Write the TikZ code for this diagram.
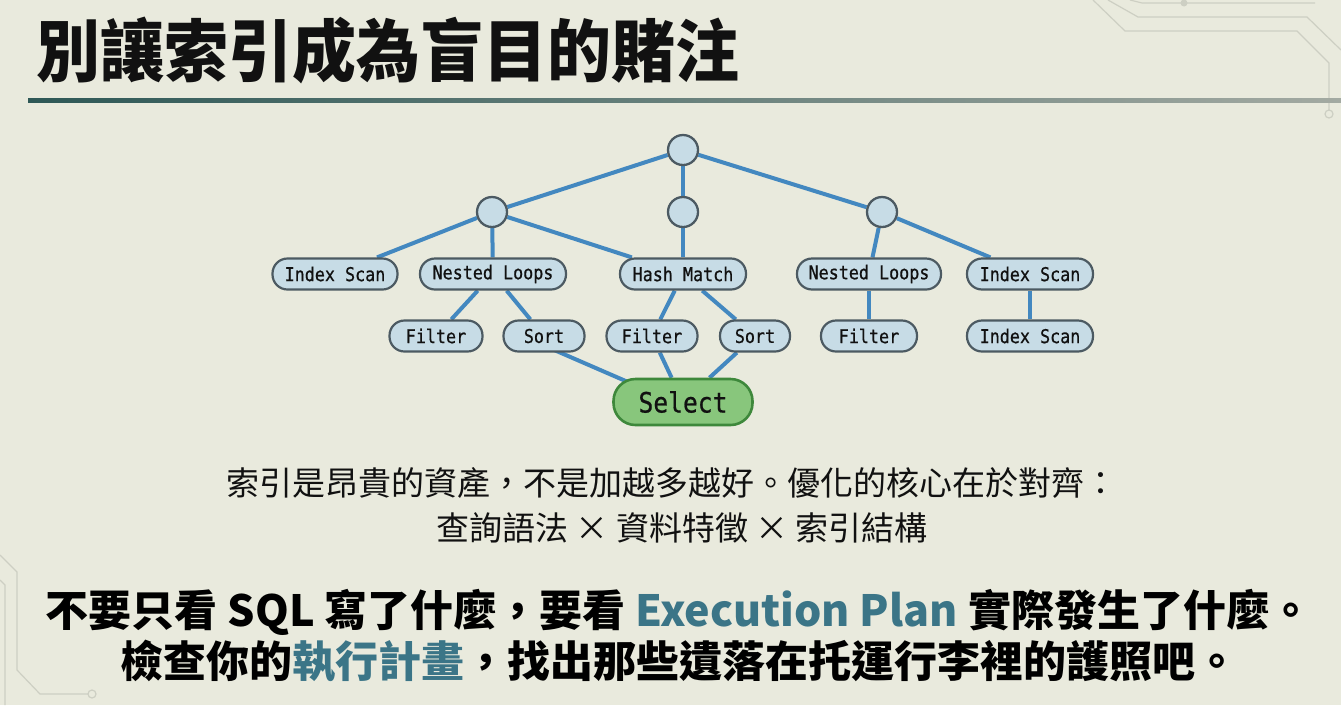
\documentclass[tikz,border=0pt]{standalone}
\usepackage{fontspec}
\newfontfamily\cjk{Noto Sans CJK TC}
\newfontfamily\cjkblack{Noto Sans CJK TC Black}
\newfontfamily\mono[FakeBold=0.7]{DejaVu Sans Mono}
\definecolor{bgcol}{HTML}{E9EADD}
\definecolor{edgecol}{HTML}{4388C0}
\definecolor{nodefill}{HTML}{C7DCE6}
\definecolor{nodedraw}{HTML}{4C5A62}
\definecolor{selfill}{HTML}{88C67C}
\definecolor{seldraw}{HTML}{3E883B}
\definecolor{teal}{HTML}{3B7587}
\definecolor{ruleL}{HTML}{2E5856}
\definecolor{ruleR}{HTML}{A3AAA2}
\definecolor{circuit}{HTML}{CDCFC3}
\definecolor{txt}{HTML}{111111}
\pgfdeclarelayer{back}
\pgfdeclarelayer{bg}
\pgfsetlayers{back,bg,main}
\newcommand{\optext}[1]{\scalebox{0.88}[1]{#1}}
\tikzset{
  joint/.style={circle, fill=nodefill, draw=nodedraw, line width=2.3pt, minimum size=30pt, inner sep=0pt},
  op/.style={rounded corners=15pt, fill=nodefill, draw=nodedraw, line width=2.2pt,
    minimum height=31pt, inner sep=0pt, text=txt, font=\mono\fontsize{19}{21}\selectfont},
  sel/.style={rounded corners=22pt, fill=selfill, draw=seldraw, line width=2.6pt,
    minimum height=46pt, minimum width=139pt, inner sep=0pt, text=txt, font=\mono\fontsize{28}{30}\selectfont},
  link/.style={draw=edgecol, line width=4pt},
  trace/.style={draw=circuit, line width=1.2pt},
}
\begin{document}
\begin{tikzpicture}[x=1pt,y=-1pt]
\begin{pgfonlayer}{back}
\fill[bgcol] (0,0) rectangle (1341,705);
\end{pgfonlayer}
\useasboundingbox (0,0) rectangle (1341,705);

% circuit decorations
\draw[trace] (1093,0) -- (1125,31) -- (1297,31) -- (1329,63) -- (1329,110);
\draw[trace] (1329,114) circle (4);
\draw[trace] (1108,0) -- (1138,17) -- (1307,17) -- (1341,50);
\draw[trace] (1130,0) -- (1142,3) -- (1315,3);
\fill[circuit] (1184,3) circle (3.5);
\draw[trace] (0,555) -- (17,572) -- (17,670) -- (40,694) -- (88,694);
\draw[trace] (92,694) circle (4);
\draw[trace] (0,580) -- (5,585) -- (5,705);

% title
\node[anchor=west, text=txt, font=\cjkblack\fontsize{68}{72}\selectfont] (title) at (33,50) {\scalebox{0.94}[1]{別讓索引成為盲目的賭注}};
\shade[left color=ruleL, right color=ruleR] (28,98.5) rectangle (1341,102);

% plan tree
\node[joint] (root) at (683,150) {};
\node[joint] (cL) at (492,212) {};
\node[joint] (cM) at (683,212) {};
\node[joint] (cR) at (882,212) {};
\node[op, minimum width=125pt] (isL) at (335,274) {\optext{Index Scan}};
\node[op, minimum width=146pt] (nlL) at (493,274) {\optext{Nested Loops}};
\node[op, minimum width=126pt] (hm) at (683,274) {\optext{Hash Match}};
\node[op, minimum width=144pt] (nlR) at (869,274) {\optext{Nested Loops}};
\node[op, minimum width=126pt] (isR) at (1030,274) {\optext{Index Scan}};
\node[op, minimum width=93pt] (fL) at (436,336) {\optext{Filter}};
\node[op, minimum width=81pt] (sL) at (544,336) {\optext{Sort}};
\node[op, minimum width=91pt] (fM) at (652,336) {\optext{Filter}};
\node[op, minimum width=70pt] (sM) at (755,336) {\optext{Sort}};
\node[op, minimum width=96pt] (fR) at (869,336) {\optext{Filter}};
\node[op, minimum width=126pt] (isR2) at (1030,336) {\optext{Index Scan}};
\node[sel] (select) at (683,402) {\optext{Select}};

\begin{pgfonlayer}{bg}
\draw[link] (root) -- (cL);
\draw[link] (root) -- (cM);
\draw[link] (root) -- (cR);
\draw[link] (cL) -- (isL);
\draw[link] (cL) -- (nlL);
\draw[link] (cL) -- (hm);
\draw[link] (cM) -- (hm);
\draw[link] (cR) -- (nlR);
\draw[link] (cR) -- (isR);
\draw[link] (nlL) -- (fL);
\draw[link] (nlL) -- (sL);
\draw[link] (hm) -- (fM);
\draw[link] (hm) -- (sM);
\draw[link] (nlR) -- (fR);
\draw[link] (isR) -- (isR2);
\draw[link] ([xshift=-22pt]sL.center) -- ([xshift=-9pt]select.center);
\draw[link] (fM) -- (select);
\draw[link] (sM) -- (select);
\end{pgfonlayer}

% explanation
\node[text=txt, font=\cjk\fontsize{33}{40}\selectfont] (note1) at (672,483) {索引是昂貴的資產，不是加越多越好。優化的核心在於對齊：};
\node[text=txt, font=\cjk\fontsize{33}{40}\selectfont] (note2) at (682,528) {查詢語法 × 資料特徵 × 索引結構};

% conclusion
\node[text=black, font=\cjk\bfseries\fontsize{43}{50}\selectfont] (tag1) at (679,612) {不要只看 SQL 寫了什麼，要看 \textcolor{teal}{Execution Plan} 實際發生了什麼。};
\node[text=black, font=\cjk\bfseries\fontsize{43}{50}\selectfont] (tag2) at (679,661) {檢查你的\textcolor{teal}{執行計畫}，找出那些遺落在托運行李裡的護照吧。};
\end{tikzpicture}
\end{document}
